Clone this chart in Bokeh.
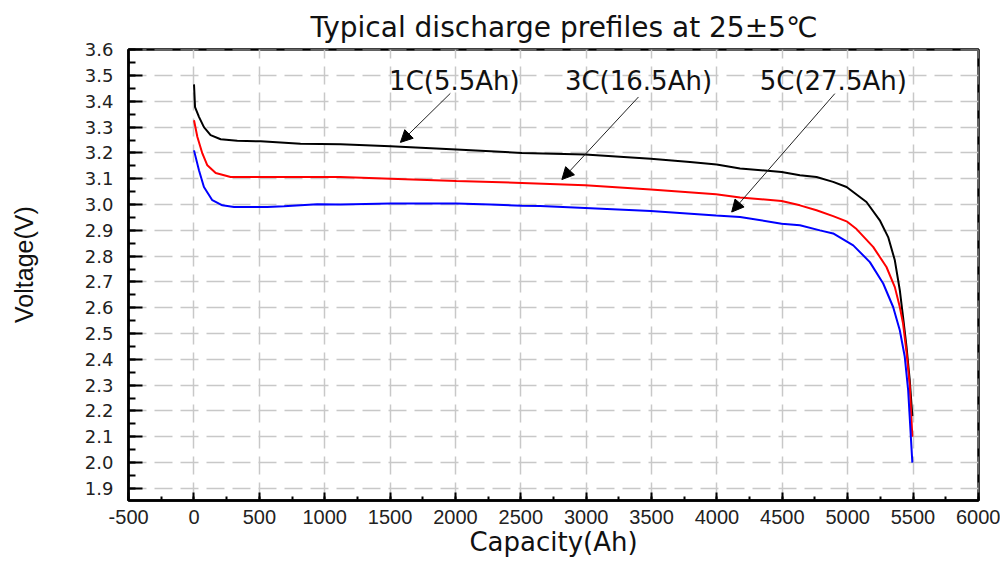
from bokeh.plotting import figure
from bokeh.models import (ColumnDataSource, Range1d, SingleIntervalTicker,
                          PrintfTickFormatter, Arrow, NormalHead)
from bokeh.core.properties import value
from bokeh.embed import file_html
from bokeh.resources import INLINE

# ---- data ----
cap_1c = [0, 8, 38, 76, 127, 204, 331, 510, 815, 1121, 1503, 2007, 2508, 2992,
          3494, 3794, 3998, 4177, 4495, 4635, 4762, 4889, 4992, 5144, 5246,
          5310, 5361, 5399, 5424, 5450, 5475, 5495]
volt_1c = [3.466, 3.378, 3.34, 3.30, 3.269, 3.253, 3.247, 3.245, 3.236, 3.234,
           3.226, 3.213, 3.20, 3.194, 3.178, 3.165, 3.155, 3.14, 3.126, 3.114,
           3.107, 3.088, 3.068, 3.01, 2.939, 2.874, 2.784, 2.668, 2.564, 2.45,
           2.32, 2.18]

cap_3c = [0, 26, 64, 102, 166, 280, 433, 815, 1121, 1503, 2007, 2508, 2992,
          3494, 3993, 4177, 4495, 4635, 4762, 4889, 4992, 5068, 5195, 5297,
          5361, 5399, 5424, 5450, 5475, 5495]
volt_3c = [3.327, 3.262, 3.198, 3.152, 3.122, 3.107, 3.107, 3.107, 3.107, 3.10,
           3.091, 3.084, 3.075, 3.058, 3.04, 3.027, 3.014, 2.997, 2.978, 2.955,
           2.935, 2.905, 2.836, 2.758, 2.68, 2.603, 2.539, 2.43, 2.30, 2.10]

cap_5c = [0, 38, 76, 140, 217, 306, 560, 688, 943, 1121, 1503, 2007, 2267,
          2508, 2649, 2992, 3494, 3993, 4177, 4495, 4635, 4788, 4889, 5043,
          5170, 5272, 5348, 5399, 5437, 5463, 5495]
volt_5c = [3.21, 3.133, 3.068, 3.017, 2.997, 2.991, 2.991, 2.993, 3.001, 3.0,
           3.004, 3.004, 3.0, 2.995, 2.994, 2.987, 2.975, 2.958, 2.952, 2.926,
           2.92, 2.90, 2.888, 2.842, 2.777, 2.694, 2.603, 2.513, 2.41, 2.28, 2.0]

labels = ["1C(5.5Ah)", "3C(16.5Ah)", "5C(27.5Ah)"]
label_x = [1992, 3400, 4890]
label_y = [3.478, 3.478, 3.478]
arrow_x0 = [1961, 3400, 4902]
arrow_y0 = [3.431, 3.417, 3.430]
arrow_x1 = [1579, 2814, 4113]
arrow_y1 = [3.241, 3.097, 2.971]

title_text = "Typical discharge prefiles at 25\u00b15\u2103"
x_title = "Capacity(Ah)"
y_title = "\u00a0\u00a0\u00a0Voltage(V)"

# ---- figure ----
p = figure(width=1000, height=562, output_backend="svg", toolbar_location=None,
           x_range=Range1d(-501, 6001), y_range=Range1d(1.853, 3.601),
           min_border_left=128, min_border_right=22, min_border_top=49,
           min_border_bottom=62, title=title_text,
           background_fill_color="white", border_fill_color="white")

p.title.text_font = "DejaVu Sans"
p.title.text_font_size = "28px"
p.title.text_font_style = "normal"
p.title.text_color = "#111111"
p.title.align = "left"
p.title.offset = 182
p.title.standoff = 12

xt = SingleIntervalTicker(interval=500, num_minor_ticks=2)
yt = SingleIntervalTicker(interval=0.1, num_minor_ticks=2)
p.xaxis[0].ticker = xt
p.yaxis[0].ticker = yt
p.xgrid[0].ticker = xt
p.ygrid[0].ticker = yt
p.xaxis[0].formatter = PrintfTickFormatter(format="%d")
p.yaxis[0].formatter = PrintfTickFormatter(format="%.1f")

for ax in (p.xaxis[0], p.yaxis[0]):
    ax.axis_line_color = "black"
    ax.axis_line_width = 2.5
    ax.major_tick_line_color = "black"
    ax.minor_tick_line_color = "black"
    ax.major_tick_line_width = 2
    ax.minor_tick_line_width = 2
    ax.major_tick_out = 0
    ax.minor_tick_out = 0
    ax.major_label_text_color = "#222222"
    ax.axis_label_text_color = "#111111"
    ax.axis_label_text_font_style = "normal"

p.xaxis[0].major_tick_in = 8
p.xaxis[0].minor_tick_in = 4
p.yaxis[0].major_tick_in = 14
p.yaxis[0].minor_tick_in = 7

p.xaxis[0].major_label_text_font = "Liberation Sans"
p.xaxis[0].major_label_text_font_size = "20px"
p.xaxis[0].major_label_standoff = 9
p.yaxis[0].major_label_text_font = "DejaVu Sans"
p.yaxis[0].major_label_text_font_size = "18px"
p.yaxis[0].major_label_standoff = 15

p.xaxis[0].axis_label = x_title
p.xaxis[0].axis_label_text_font = "DejaVu Sans"
p.xaxis[0].axis_label_text_font_size = "26px"
p.xaxis[0].axis_label_standoff = 0
p.yaxis[0].axis_label = y_title
p.yaxis[0].axis_label_text_font = "Liberation Sans"
p.yaxis[0].axis_label_text_font_size = "25px"
p.yaxis[0].axis_label_standoff = 44

p.grid.grid_line_color = "#c8c8c8"
p.grid.grid_line_dash = "18 8"
p.grid.grid_line_width = 1.5

p.outline_line_color = "black"
p.outline_line_width = 2.5
p.outline_line_alpha = 1.0

# ---- curves ----
p.line(cap_1c, volt_1c, line_color="black", line_width=2)
p.line(cap_3c, volt_3c, line_color="#ff0000", line_width=2)
p.line(cap_5c, volt_5c, line_color="#0000ff", line_width=2)

# ---- annotations ----
p.text(x=label_x, y=label_y, text=labels, text_font=value("DejaVu Sans"),
       text_font_size="26px", text_align="center", text_baseline="middle",
       text_color="#111111")

arrow_src = ColumnDataSource(dict(x0=arrow_x0, y0=arrow_y0, x1=arrow_x1, y1=arrow_y1))
p.add_layout(Arrow(end=NormalHead(size=12, fill_color="black", line_color="black",
                                  line_width=1),
                   source=arrow_src, x_start="x0", y_start="y0",
                   x_end="x1", y_end="y1", line_color="#222222", line_width=1))

open("out.html", "w").write(file_html(p, INLINE))
